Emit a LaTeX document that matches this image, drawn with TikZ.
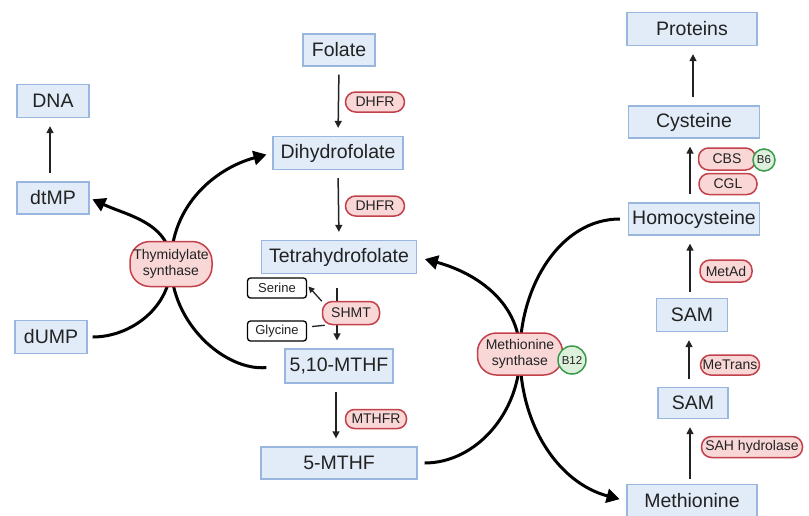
\documentclass[tikz,border=0pt]{standalone}
\usepackage{fontspec}
\setmainfont{Liberation Sans}
\usetikzlibrary{arrows.meta,backgrounds}
\definecolor{boxfill}{HTML}{E1ECF8}
\definecolor{boxline}{HTML}{98B6DE}
\definecolor{enzfill}{HTML}{F9D7D7}
\definecolor{enzline}{HTML}{C2414A}
\definecolor{cofill}{HTML}{DCF0DC}
\definecolor{coline}{HTML}{3A9A4C}
\definecolor{txt}{HTML}{222222}
\begin{document}
\begin{tikzpicture}[x=1pt,y=-1pt,
  mol/.style={draw=boxline,fill=boxfill,line width=1.3pt,text=txt,inner sep=0pt,
    font=\fontsize{19.5}{21}\selectfont},
  enz/.style={draw=enzline,fill=enzfill,line width=1.5pt,rounded corners=10pt,text=txt,
    inner sep=0pt,font=\fontsize{14}{16}\selectfont,align=center},
  cof/.style={circle,draw=coline,fill=cofill,line width=1.5pt,text=txt,inner sep=0pt,
    font=\fontsize{11.5}{12}\selectfont},
  aa/.style={draw=black,fill=white,line width=1.3pt,rounded corners=3pt,text=txt,
    inner sep=0pt,font=\fontsize{13}{14}\selectfont},
  thinarrow/.style={draw=txt,line width=1.5pt,-{Triangle[length=7pt,width=7pt]},
    shorten <=8pt,shorten >=8pt},
  bigarrow/.style={draw=black,line width=3pt,-{Triangle[length=13pt,width=14pt]}}]
\useasboundingbox (0,0) rectangle (809,515);
% molecules
\node[mol,minimum width=72pt,minimum height=32pt] (folate) at (339,50) {Folate};
\node[mol,minimum width=130pt,minimum height=33pt] (dhf) at (338,153) {Dihydrofolate};
\node[mol,minimum width=155pt,minimum height=33pt] (thf) at (339,257) {Tetrahydrofolate};
\node[mol,minimum width=108pt,minimum height=34pt] (mthfa) at (339,366) {5,10-MTHF};
\node[mol,minimum width=156pt,minimum height=32pt] (mthfb) at (339,463) {5-MTHF};
\node[mol,minimum width=72pt,minimum height=33pt] (dna) at (53,101) {DNA};
\node[mol,minimum width=72pt,minimum height=32pt] (dtmp) at (53,198) {dtMP};
\node[mol,minimum width=72pt,minimum height=33pt] (dump) at (51,337) {dUMP};
\node[mol,minimum width=130pt,minimum height=33pt] (prot) at (692,29) {Proteins};
\node[mol,minimum width=131pt,minimum height=32pt] (cys) at (694,122) {Cysteine};
\node[mol,minimum width=131pt,minimum height=32pt] (hcy) at (694,219) {Homocysteine};
\node[mol,minimum width=71pt,minimum height=33pt] (sama) at (692,315) {SAM};
\node[mol,minimum width=70pt,minimum height=31pt] (samb) at (693,403) {SAM};
\node[mol,minimum width=130pt,minimum height=33pt] (met) at (692,501) {Methionine};
% enzymes
\node[enz,minimum width=59pt,minimum height=20pt] (dhfra) at (375,102) {DHFR};
\node[enz,minimum width=59pt,minimum height=20pt] (dhfrb) at (375,206) {DHFR};
\node[enz,minimum width=57pt,minimum height=23pt] (shmt) at (351,313) {SHMT};
\node[enz,minimum width=61pt,minimum height=19pt,rounded corners=9pt] (mthfr) at (376,419) {MTHFR};
\node[enz,minimum width=82pt,minimum height=45pt,rounded corners=20pt] (ts) at (171,264) {Thymidylate\\synthase};
\node[enz,minimum width=85pt,minimum height=42pt,rounded corners=19pt] (ms) at (520,354) {Methionine\\synthase};
\node[cof,minimum size=28pt] (b12) at (572,360) {B12};
\node[enz,minimum width=57pt,minimum height=22pt] (cbs) at (727,159) {CBS};
\node[cof,minimum size=22pt] (b6) at (764,160) {B6};
\node[enz,minimum width=58pt,minimum height=21pt] (cgl) at (728,184) {CGL};
\node[enz,minimum width=52pt,minimum height=22pt] (metad) at (726,271) {MetAd};
\node[enz,minimum width=59pt,minimum height=20pt] (metrans) at (730,365) {MeTrans};
\node[enz,minimum width=101pt,minimum height=21pt] (sah) at (752,447) {SAH hydrolase};
\node[aa,minimum width=59pt,minimum height=20pt] (ser) at (277,288) {Serine};
\node[aa,minimum width=59pt,minimum height=20pt] (gly) at (277,331) {Glycine};
\begin{scope}[on background layer]
% straight arrows
\draw[thinarrow] (folate.south) -- (dhf.north);
\draw[thinarrow] (dhf.south) -- (thf.north);
\draw[thinarrow,shorten <=14pt] ([xshift=-2pt]thf.south) -- ([xshift=-2pt]mthfa.north);
\draw[thinarrow] ([xshift=-3pt]mthfa.south) -- ([xshift=-3pt]mthfb.north);
\draw[thinarrow] ([xshift=-3pt]dtmp.north) -- ([xshift=-3pt]dna.south);
\draw[thinarrow] ([xshift=-1pt]cys.north) -- ([xshift=-1pt]cys.north |- prot.south);
\draw[thinarrow] ([xshift=-4pt]hcy.north) -- ([xshift=-4pt]cys.south);
\draw[thinarrow,shorten <=6pt] ([xshift=-2pt]sama.north) -- ([xshift=-2pt]sama.north |- hcy.south);
\draw[thinarrow] ([xshift=-4pt]samb.north) -- ([xshift=-4pt]samb.north |- sama.south);
\draw[thinarrow,shorten <=5pt] ([xshift=-2pt]met.north) -- ([xshift=-2pt]met.north |- samb.south);
\draw[draw=txt,line width=1.3pt,-{Triangle[length=6pt,width=6pt]},shorten >=2pt]
  (shmt.158) -- ([yshift=3pt]ser.east);
\draw[draw=txt,line width=1.3pt,shorten <=5pt] ([yshift=4pt]gly.east) -- (shmt.205);
% curved arrows
\draw[bigarrow,shorten <=5pt,shorten >=6pt]
  (dump.east) to[out=0,in=-90] (ts.center) to[out=90,in=195] (dhf.west);
\draw[bigarrow,shorten <=18pt,shorten >=3pt]
  (mthfa.west) to[out=185,in=-90] (ts.center) to[out=90,in=-25] (dtmp.east);
\draw[bigarrow,shorten <=7pt,shorten >=8pt]
  (mthfb.east) to[out=0,in=-90] (ms.center) to[out=90,in=-15] (thf.east);
\draw[bigarrow,shorten <=8pt,shorten >=7pt]
  (hcy.west) to[out=180,in=90] (ms.center) to[out=-90,in=165] (met.west);
\end{scope}
\end{tikzpicture}
\end{document}
